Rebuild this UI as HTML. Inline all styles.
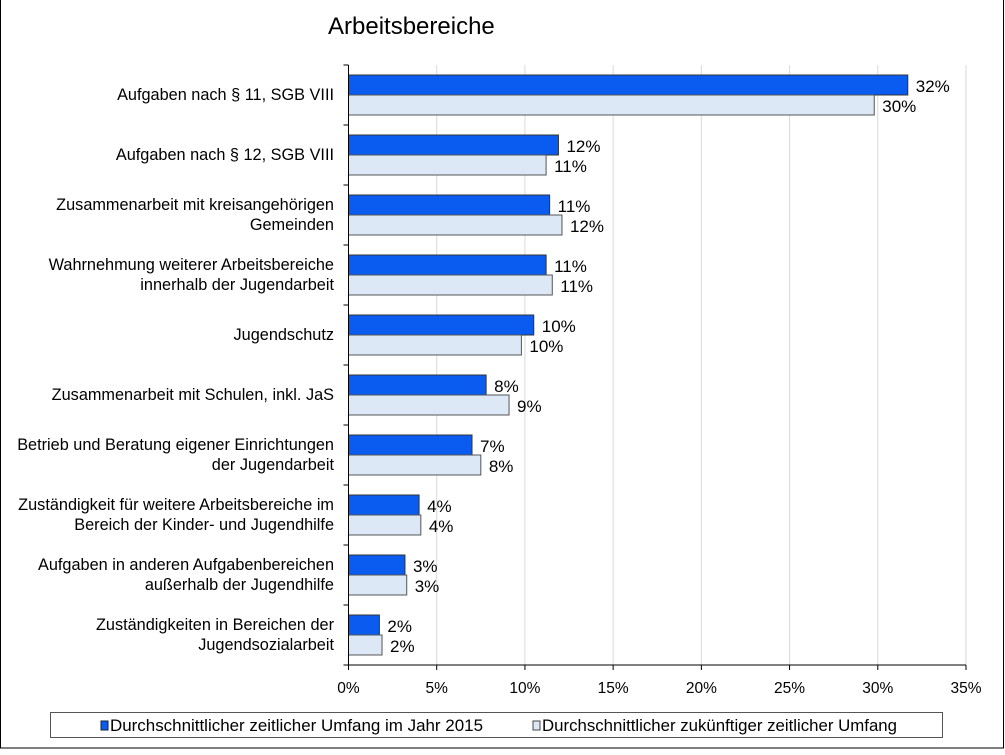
<!DOCTYPE html>
<html><head><meta charset="utf-8"><style>
body{margin:0;background:#fff;font-family:"Liberation Sans",sans-serif}
svg text{font-family:"Liberation Sans",sans-serif}
</style></head><body>
<svg width="1005" height="750">
<rect x="0.5" y="-2" width="1003" height="750" fill="#fff" stroke="#000"/>
<text x="328" y="34" font-size="24">Arbeitsbereiche</text>
<g id="plot"></g>
<g>
<rect x="50.5" y="712.5" width="892" height="25" fill="#fff" stroke="#555"/>
<rect x="101" y="721" width="7" height="9" fill="#0a5cf0" stroke="#123"/>
<text x="110" y="731" font-size="16.5" textLength="373" lengthAdjust="spacingAndGlyphs">Durchschnittlicher zeitlicher Umfang im Jahr 2015</text>
<rect x="533" y="721" width="7" height="9" fill="#dce8f5" stroke="#444"/>
<text x="542" y="731" font-size="16.5" textLength="355" lengthAdjust="spacingAndGlyphs">Durchschnittlicher zukünftiger zeitlicher Umfang</text>
</g>
</svg>
<script>
const categories=[["Aufgaben nach § 11, SGB VIII"],["Aufgaben nach § 12, SGB VIII"],["Zusammenarbeit mit kreisangehörigen","Gemeinden"],["Wahrnehmung weiterer Arbeitsbereiche","innerhalb der Jugendarbeit"],["Jugendschutz"],["Zusammenarbeit mit Schulen, inkl. JaS"],["Betrieb und Beratung eigener Einrichtungen","der Jugendarbeit"],["Zuständigkeit für weitere Arbeitsbereiche im","Bereich der Kinder- und Jugendhilfe"],["Aufgaben in anderen Aufgabenbereichen","außerhalb der Jugendhilfe"],["Zuständigkeiten in Bereichen der","Jugendsozialarbeit"]];
const values2015=[31.7,11.9,11.4,11.2,10.5,7.8,7.0,4.0,3.2,1.75];
const valuesFuture=[29.8,11.2,12.1,11.55,9.8,9.1,7.5,4.1,3.3,1.9];
const labels2015=["32%","12%","11%","11%","10%","8%","7%","4%","3%","2%"];
const labelsFuture=["30%","11%","12%","11%","10%","9%","8%","4%","3%","2%"];
const ticks=[0,5,10,15,20,25,30,35];
const tickLabels=["0%","5%","10%","15%","20%","25%","30%","35%"];
const NS="http://www.w3.org/2000/svg";
const g=document.getElementById('plot');
const x0=348.5,x1=966,yTop=65,yBot=665;
const xs=v=>x0+(x1-x0)*v/35;
const band=(yBot-yTop)/categories.length;
function mk(t,a,p){const e=document.createElementNS(NS,t);for(const k in a)e.setAttribute(k,a[k]);(p||g).appendChild(e);return e;}
ticks.forEach((t,i)=>{
 if(i>0){const l=mk('line',{x1:xs(t),x2:xs(t),y1:yTop,y2:yBot,stroke:'#d9d9d9'});
 
 }
 mk('line',{x1:xs(t),x2:xs(t),y1:yBot,y2:yBot+5,stroke:'#000'});
 const tx=mk('text',{x:xs(t),y:yBot+28,'font-size':15.5,'text-anchor':'middle'});tx.textContent=tickLabels[i];
 
 
});
categories.forEach((c,i)=>{
 const y=yTop+i*band;
 mk('line',{x1:x0-5,x2:x0,y1:y,y2:y,stroke:'#000'});
 const b1=mk('rect',{x:x0,y:y+10,width:xs(values2015[i])-x0,height:20,fill:'#0a5cf0',stroke:'#333'});
 
 
 const b2=mk('rect',{x:x0,y:y+30,width:xs(valuesFuture[i])-x0,height:20,fill:'#dce8f5',stroke:'#555'});
 
 
 const l1=mk('text',{x:xs(values2015[i])+8,y:y+27,'font-size':17});l1.textContent=labels2015[i];
 
 
 const l2=mk('text',{x:xs(valuesFuture[i])+8,y:y+47,'font-size':17});l2.textContent=labelsFuture[i];
 
 
 const n=c.length;
 c.forEach((s,j)=>{const t=mk('text',{x:334,y:y+band/2+5+(j-(n-1)/2)*20,'font-size':16.3,'text-anchor':'end'});t.textContent=s;
 
 });
});
mk('line',{x1:x0-5,x2:x0,y1:yBot,y2:yBot,stroke:'#000'});
mk('line',{x1:x0,x2:x0,y1:yTop,y2:yBot,stroke:'#000'});
mk('line',{x1:x0,x2:x1,y1:yBot,y2:yBot,stroke:'#000'});
</script>
</body></html>
